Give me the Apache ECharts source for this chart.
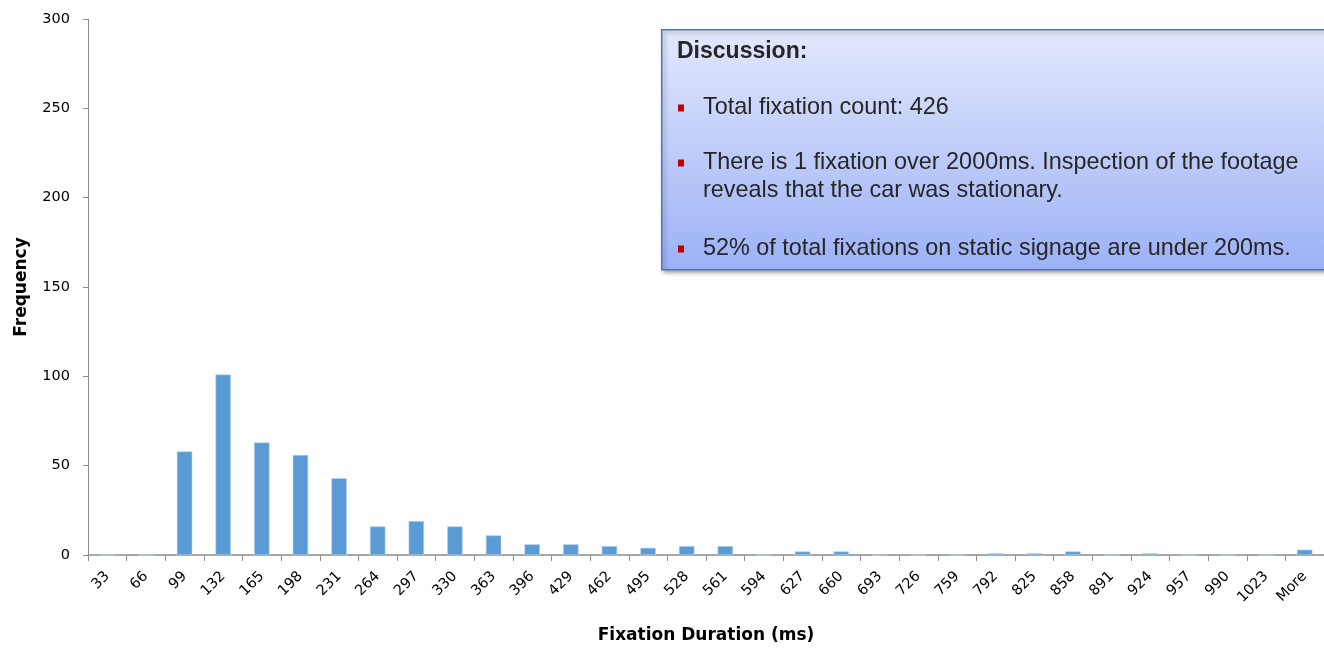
<!DOCTYPE html>
<html>
<head>
<meta charset="utf-8">
<script src="https://cdn.jsdelivr.net/npm/echarts@6/dist/echarts.min.js"></script>
<style>
html,body{margin:0;padding:0;background:#fff;}
#chart{width:1324px;height:651px;}
</style>
</head>
<body>
<div id="chart"></div>
<script>
const categories = ['33','66','99','132','165','198','231','264','297','330','363','396','429','462','495','528','561','594','627','660','693','726','759','792','825','858','891','924','957','990','1023','More'];
const frequency = [0,0,58,101,63,56,43,16,19,16,11,6,6,5,4,5,5,0,2,2,0,0,0,1,1,2,0,1,0,0,0,3];
const yTicks = [0,50,100,150,200,250,300];
const discussionTitle = 'Discussion:';
const bullets = [
  ['Total fixation count: 426'],
  ['There is 1 fixation over 2000ms. Inspection of the footage', 'reveals that the car was stationary.'],
  ['52% of total fixations on static signage are under 200ms.']
];

const chart = echarts.init(document.getElementById('chart'), null, {renderer:'canvas'});
const axisGray = '#8c8c8c';
const labelFont = '"DejaVu Sans", sans-serif';

const graphics = [];
graphics.push({
  type:'rect', left:661, top:29, z:100,
  shape:{width:700, height:240},
  style:{
    fill:new echarts.graphic.LinearGradient(0,0,0,1,[
      {offset:0,color:'#e3e8fc'},
      {offset:1,color:'#9cb1f6'}
    ]),
    stroke:'#4a76c8', lineWidth:1.5,
    shadowBlur:4, shadowOffsetX:2, shadowOffsetY:2, shadowColor:'rgba(0,0,0,0.35)'
  }
});
graphics.push({
  type:'text', x:677, y:52, z:101,
  style:{text:discussionTitle, font:'bold 23px "Liberation Sans", Arial, sans-serif', fill:'#262626', textVerticalAlign:'middle'}
});
const lineYs = [[108],[163,191],[249]];
bullets.forEach((b,i)=>{
  graphics.push({type:'rect', x:678, y:lineYs[i][0]-3.5, z:101, shape:{width:6,height:7}, style:{fill:'#c00000'}});
  b.forEach((t,j)=>{
    graphics.push({type:'text', x:703, y:lineYs[i][j], z:101,
      style:{text:t, font:'23.4px "Liberation Sans", Arial, sans-serif', fill:'#262626', textVerticalAlign:'middle'}});
  });
});

chart.setOption({
  animation:false,
  grid:{left:88, right:0, top:19, bottom:96, containLabel:false},
  xAxis:{
    type:'category', data:categories,
    name:'Fixation Duration (ms)', nameLocation:'middle', nameGap:72,
    nameTextStyle:{fontFamily:labelFont, fontWeight:'bold', fontSize:17, color:'#000'},
    axisLine:{lineStyle:{color:axisGray, width:1.5}},
    axisTick:{show:true, alignWithLabel:false, length:6, lineStyle:{color:axisGray}},
    axisLabel:{rotate:45, fontFamily:labelFont, fontSize:14.5, color:'#000', interval:0, margin:19}
  },
  yAxis:{
    type:'value', min:0, max:300, interval:50,
    name:'Frequency', nameLocation:'middle', nameGap:58, nameRotate:90,
    nameTextStyle:{fontFamily:labelFont, fontWeight:'bold', fontSize:17, color:'#000'},
    axisLine:{show:true, lineStyle:{color:axisGray}},
    axisTick:{show:true, length:5, lineStyle:{color:axisGray}},
    splitLine:{show:false},
    axisLabel:{fontFamily:labelFont, fontSize:14.5, color:'#000', margin:18,
      formatter:v=>yTicks.includes(v)?String(v):''}
  },
  series:[{
    type:'bar', data:frequency, barWidth:'40%',
    itemStyle:{color:'#5b9bd5', borderColor:'#b9d3ee', borderWidth:0.6}
  }],
  graphic:graphics
});
</script>
</body>
</html>
